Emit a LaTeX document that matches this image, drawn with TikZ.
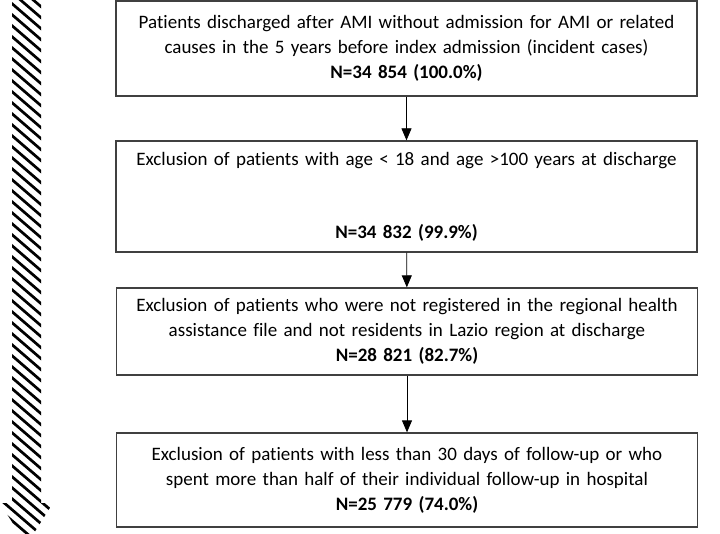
\documentclass[tikz,border=0pt]{standalone}
\usepackage{fontspec}
\setmainfont{Carlito}[Ligatures=NoCommon]
\usetikzlibrary{arrows.meta,positioning}

\tikzset{
  flowbox/.style={draw=black!75, line width=1.3pt, minimum width=581pt,
    text width=575pt, align=center, inner sep=0pt,
    font=\fontsize{19}{25}\selectfont},
  flowarrow/.style={-{Triangle[length=12pt,width=10pt]}, line width=0.8pt}
}

\begin{document}
\begin{tikzpicture}[x=1pt,y=-1pt]
    \useasboundingbox (0,0) rectangle (720,534);
    % striped arrow on the left
    \begin{scope}
      \clip (12,0) -- (41,0) -- (41,503) -- (53,503) -- (26.5,545)
            -- (0,503) -- (12,503) -- cycle;
      \foreach \k in {-6,...,52}
        \draw[line width=2.7pt] (-5,\k*11) -- (60,\k*11+56);
    \end{scope}

    \node[flowbox, minimum height=95pt] (incident) at (406.5,48.5)
      {Patients discharged after AMI without admission for AMI or related\\
       causes in the 5 years before index admission (incident cases)\\
       \textbf{N=34 854 (100.0\%)}};
    \node[flowbox, minimum height=111pt] (age) at (406.5,196.5)
      {Exclusion of patients with age < 18 and age >100 years at discharge\\[48pt]
       \textbf{N=34 832 (99.9\%)}};
    \node[flowbox, minimum height=87pt] (resident) at (407,331.5)
      {Exclusion of patients who were not registered in the regional health\\
       assistance file and not residents in Lazio region at discharge\\
       \textbf{N=28 821 (82.7\%)}};
    \node[flowbox, minimum height=94pt] (followup) at (407,480)
      {Exclusion of patients with less than 30 days of follow-up or who\\
       spent more than half of their individual follow-up in hospital\\
       \textbf{N=25 779 (74.0\%)}};

    \draw[flowarrow] (incident) -- (age);
    \draw[flowarrow] (age) -- (resident);
    \draw[flowarrow] (resident) -- (followup);
\end{tikzpicture}
\end{document}
